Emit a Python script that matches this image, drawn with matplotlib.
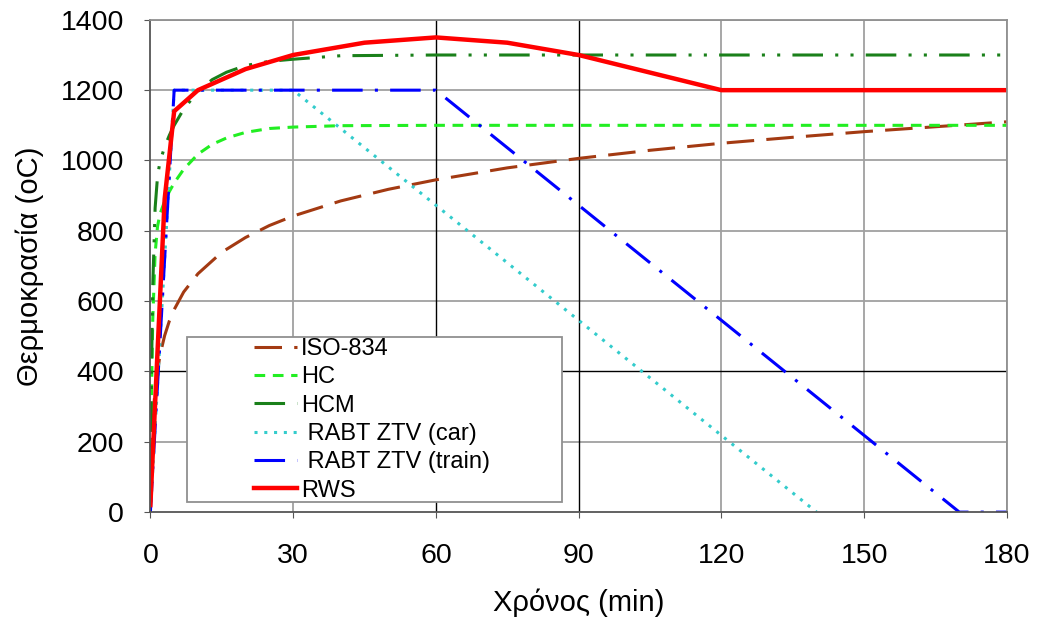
import matplotlib
matplotlib.use("Agg")
import matplotlib.pyplot as plt
from matplotlib.patches import Rectangle

plt.rcParams['font.family'] = ['Liberation Sans', 'DejaVu Sans']

# ── Data ───────────────────────────────────────────────────────
t_iso   = [0, 0.5, 1, 2, 3, 4, 5, 7, 10, 15, 20, 25, 30, 40, 50, 60,
           75, 90, 105, 120, 135, 150, 165, 180]
iso_834 = [20, 261, 349, 445, 502, 544, 576, 626, 678, 739, 781, 815, 842,
           885, 918, 945, 979, 1006, 1029, 1049, 1066, 1082, 1096, 1110]

t_hc = [0, 0.25, 0.5, 1, 1.5, 2, 3, 4, 5, 7, 10, 13, 16, 20, 25, 30, 40,
        60, 90, 120, 150, 180]
hc   = [20, 347, 546, 736, 812, 847, 884, 912, 936, 975, 1018, 1046,
        1064, 1080, 1091, 1095, 1099, 1100, 1100, 1100, 1100, 1100]
hcm  = [20, 407, 641, 865, 954, 995, 1039, 1072, 1100, 1146, 1197, 1230,
        1251, 1270, 1282, 1288, 1298, 1300, 1300, 1300, 1300, 1300]

t_car  = [0, 5, 30, 140]
car    = [0, 1200, 1200, 0]
t_train = [0, 5, 60, 170, 180]
train   = [0, 1200, 1200, 0, 0]

t_rws = [0, 3, 5, 10, 20, 30, 45, 60, 75, 90, 105, 120, 180]
rws   = [20, 890, 1140, 1200, 1260, 1300, 1335, 1350, 1335, 1300, 1250,
         1200, 1200]

# ── Figure ─────────────────────────────────────────────────────
fig = plt.figure(figsize=(10.37, 6.2), dpi=100)
ax = fig.add_axes([0.145, 0.174, 0.826, 0.794])

grid_c = '#a0a0a0'
for x in [30, 120, 150, 180]:
    ax.axvline(x, color=grid_c, lw=1.3, zorder=0)
for y in [200, 600, 800, 1000, 1200, 1400]:
    ax.axhline(y, color=grid_c, lw=1.3, zorder=0)
for x in [60, 90]:
    ax.axvline(x, color='black', lw=1.0, zorder=0)
ax.axhline(400, color='black', lw=1.0, zorder=0)

ax.plot(t_iso, iso_834, color='#a33a12', lw=2.2, dashes=(9, 4),
        label='ISO-834')
ax.plot(t_hc, hc, color='#22ee22', lw=2.2, dashes=(3.5, 2.5), label='HC')
ax.plot(t_hc, hcm, color='#1a801a', lw=2.2,
        dashes=(10, 4, 1, 4, 1, 4), label='HCM')
ax.plot(t_car, car, color='#33cccc', lw=2.2, dashes=(1, 2.2),
        label=' RABT ZTV (car)')
ax.plot(t_train, train, color='#0000ff', lw=2.2, dashes=(10, 4, 1, 4),
        label=' RABT ZTV (train)')
ax.plot(t_rws, rws, color='#ff0000', lw=3.2, label='RWS')

ax.set_xlim(0, 180)
ax.set_ylim(0, 1400)
ax.set_xticks([0, 30, 60, 90, 120, 150, 180])
ax.set_yticks(range(0, 1401, 200))
ax.tick_params(labelsize=20.5, length=4, color='#555555')
ax.tick_params(axis='x', pad=18)
ax.tick_params(axis='y', pad=15)
for s in ax.spines.values():
    s.set_color('#909090')
    s.set_linewidth(1.3)
ax.spines['left'].set_color('#555555')
ax.spines['bottom'].set_color('#555555')

ax.set_xlabel('Χρόνος (min)', fontsize=21, labelpad=14)
ax.set_ylabel('Θερμοκρασία (oC)', fontsize=21, labelpad=12)

# legend box drawn separately, entries placed inside it
box = Rectangle((0.043, 0.020), 0.438, 0.336, transform=ax.transAxes,
                facecolor='white', edgecolor='#909090', lw=1.3, zorder=5)
ax.add_patch(box)
leg = ax.legend(loc='upper left', bbox_to_anchor=(0.121, 0.354),
                fontsize=17, handlelength=1.8, handletextpad=0.2,
                labelspacing=0.27, borderpad=0, borderaxespad=0,
                frameon=False)
leg.set_zorder(6)

fig.savefig('out.png', dpi=100, facecolor='white')
